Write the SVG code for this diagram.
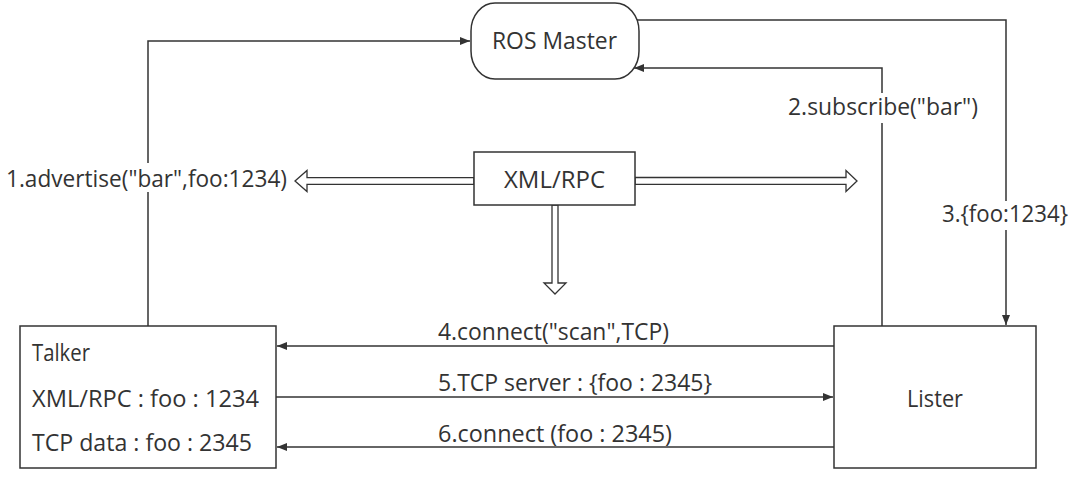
<svg xmlns="http://www.w3.org/2000/svg" width="1083" height="477" viewBox="0 0 1083 477">
<style>
  .box { fill: #ffffff; stroke: #333333; stroke-width: 1.5; }
  .ln { fill: none; stroke: #333333; stroke-width: 1.5; }
  .hollow { fill: #ffffff; stroke: #333333; stroke-width: 1.3; stroke-linejoin: miter; }
  text { font-family: "Open Sans", "Noto Sans", sans-serif; font-size: 23px; fill: #333333; }
  .mid { text-anchor: middle; }
</style>
<defs>
  <marker id="arr" viewBox="0 0 10 8" refX="10" refY="4" markerWidth="10" markerHeight="8" markerUnits="userSpaceOnUse" orient="auto">
    <path d="M0,0 L10,4 L0,8 z" fill="#333333"/>
  </marker>
</defs>
<rect width="1083" height="477" fill="#ffffff"/>

<g id="connectors">
  <path class="ln" d="M148,326 V41 H470" marker-end="url(#arr)"/>
  <path class="ln" d="M633,20 H1006 V325" marker-end="url(#arr)"/>
  <path class="ln" d="M882,326 V68 H634" marker-end="url(#arr)"/>
  <path class="ln" d="M834,346 H277" marker-end="url(#arr)"/>
  <path class="ln" d="M276,397 H833" marker-end="url(#arr)"/>
  <path class="ln" d="M834,447 H277" marker-end="url(#arr)"/>
  <polygon class="hollow" points="474,177.7 307,177.7 307,170.5 295,181 307,191.5 307,184.3 474,184.3"/>
  <polygon class="hollow" points="635,177.5 846,177.5 846,170.5 857,181 846,191.5 846,184.3 635,184.3"/>
  <polygon class="hollow" points="552,205 552,283 544,283 555,294 566,283 558,283 558,205"/>
  <rect x="0" y="163" width="294" height="29" fill="#ffffff"/>
  <rect x="786" y="93" width="194" height="30" fill="#ffffff"/>
  <rect x="940" y="201" width="130" height="29" fill="#ffffff"/>
  <text x="6" y="187" textLength="281" lengthAdjust="spacingAndGlyphs">1.advertise("bar",foo:1234)</text>
  <text x="788" y="115" textLength="190" lengthAdjust="spacingAndGlyphs">2.subscribe("bar")</text>
  <text x="942" y="222" textLength="126" lengthAdjust="spacingAndGlyphs">3.{foo:1234}</text>
  <text x="438" y="340" textLength="231" lengthAdjust="spacingAndGlyphs">4.connect("scan",TCP)</text>
  <text x="438" y="391" textLength="274" lengthAdjust="spacingAndGlyphs">5.TCP server : {foo : 2345}</text>
  <text x="438" y="442" textLength="234" lengthAdjust="spacingAndGlyphs">6.connect (foo : 2345)</text>
</g>

<g id="ros-master">
  <rect class="box" x="471" y="3" width="168" height="76" rx="24" ry="28"/>
  <text x="492" y="49" textLength="125" lengthAdjust="spacingAndGlyphs">ROS Master</text>
</g>

<g id="xml-rpc">
  <rect class="box" x="474" y="152" width="161" height="53"/>
  <text x="504" y="188" textLength="101" lengthAdjust="spacingAndGlyphs">XML/RPC</text>
</g>

<g id="talker">
  <rect class="box" x="20" y="326" width="256" height="142"/>
  <text x="32" y="361" textLength="58" lengthAdjust="spacingAndGlyphs">Talker</text>
  <text x="32" y="407" textLength="227" lengthAdjust="spacingAndGlyphs">XML/RPC : foo : 1234</text>
  <text x="32" y="451" textLength="220" lengthAdjust="spacingAndGlyphs">TCP data : foo : 2345</text>
</g>

<g id="lister">
  <rect class="box" x="834" y="326" width="202" height="142"/>
  <text x="907" y="407" textLength="56" lengthAdjust="spacingAndGlyphs">Lister</text>
</g>
</svg>
